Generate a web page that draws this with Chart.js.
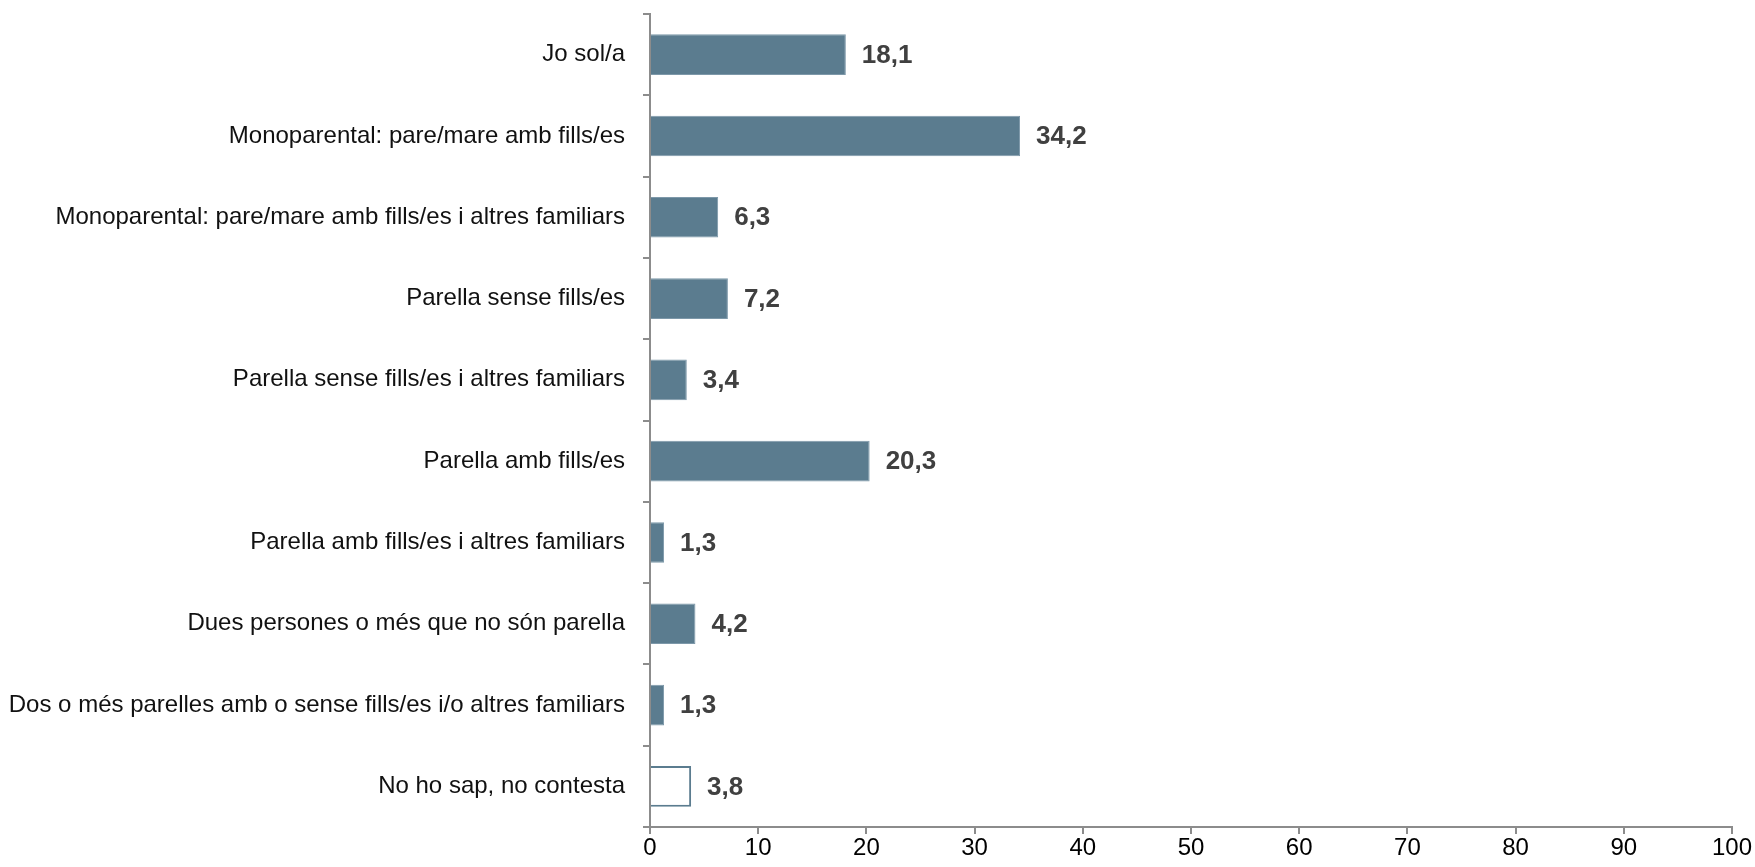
<!DOCTYPE html>
<html>
<head>
<meta charset="utf-8">
<script src="https://cdn.jsdelivr.net/npm/chart.js@4"></script>
<style>
  html, body { margin: 0; padding: 0; background: #fff; }
  #wrap { width: 1755px; height: 867px; }
</style>
</head>
<body>
<div id="wrap"><canvas id="grafic" width="1755" height="867"></canvas></div>
<script>
var categories = [
    'Jo sol/a',
    'Monoparental: pare/mare amb fills/es',
    'Monoparental: pare/mare amb fills/es i altres familiars',
    'Parella sense fills/es',
    'Parella sense fills/es i altres familiars',
    'Parella amb fills/es',
    'Parella amb fills/es i altres familiars',
    'Dues persones o més que no són parella',
    'Dos o més parelles amb o sense fills/es i/o altres familiars',
    'No ho sap, no contesta'
];
var valors = [18.1, 34.2, 6.3, 7.2, 3.4, 20.3, 1.3, 4.2, 1.3, 3.8];
var xTicks = [0, 10, 20, 30, 40, 50, 60, 70, 80, 90, 100];

var colorBarra = '#5b7c8f';
var colorVora = '#7d98a9';
var colorEix = '#8c8c8c';
var fontFamily = 'Arial, "Liberation Sans", sans-serif';

// l'última categoria (NS/NC) va sense farciment
var ultim = valors.length - 1;
var fons = valors.map((v, i) => i === ultim ? '#ffffff' : colorBarra);
var vores = valors.map((v, i) => i === ultim ? colorBarra : colorVora);
var gruixVora = valors.map((v, i) => i === ultim ? 2 : 1);

// etiquetes de valor a la dreta de cada barra
var etiquetesValor = {
    id: 'etiquetesValor',
    afterDatasetsDraw: function (chart) {
        var ctx = chart.ctx;
        var meta = chart.getDatasetMeta(0);
        ctx.save();
        ctx.font = 'bold 26px ' + fontFamily;
        ctx.fillStyle = '#404040';
        ctx.textBaseline = 'middle';
        ctx.textAlign = 'left';
        meta.data.forEach(function (bar, i) {
            var text = valors[i].toFixed(1).replace('.', ',');
            ctx.fillText(text, bar.x + 16, bar.y + 1);
        });
        ctx.restore();
    }
};

var ctx = document.getElementById('grafic').getContext('2d');
var grafic = new Chart(ctx, {
    type: 'bar',
    data: {
        labels: categories,
        datasets: [{
            data: valors,
            backgroundColor: fons,
            borderColor: vores,
            borderWidth: gruixVora,
            barPercentage: 0.5,
            categoryPercentage: 1.0
        }]
    },
    options: {
        indexAxis: 'y',
        responsive: false,
        animation: false,
        layout: { padding: { top: 14, right: 23, left: 0, bottom: 0 } },
        plugins: {
            legend: { display: false },
            tooltip: { enabled: false }
        },
        scales: {
            x: {
                min: 0,
                max: 100,
                afterBuildTicks: function (axis) {
                    axis.ticks = xTicks.map(v => ({ value: v }));
                },
                afterFit: function (axis) {
                    axis.height = 40;
                    axis.paddingLeft = 0;
                    axis.paddingRight = 0;
                },
                border: { color: colorEix, width: 2 },
                grid: { drawOnChartArea: false, drawTicks: true, tickLength: 7, color: colorEix, lineWidth: 2 },
                ticks: { color: '#000', font: { family: fontFamily, size: 24 }, padding: 0, maxRotation: 0 }
            },
            y: {
                afterFit: function (axis) {
                    axis.width = 650;
                    axis.paddingTop = 0;
                    axis.paddingBottom = 0;
                },
                border: { color: colorEix, width: 2 },
                grid: { drawOnChartArea: false, drawTicks: true, tickLength: 7, color: colorEix, lineWidth: 2, offset: true },
                ticks: { color: '#111', font: { family: fontFamily, size: 24 }, padding: 18, autoSkip: false }
            }
        }
    },
    plugins: [etiquetesValor]
});
</script>
</body>
</html>
